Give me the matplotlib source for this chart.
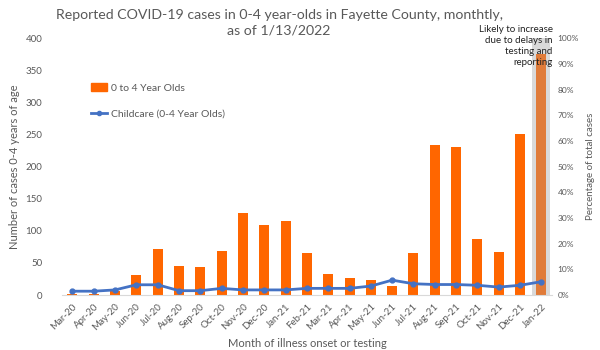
import matplotlib
matplotlib.use("Agg")
import matplotlib.pyplot as plt
from matplotlib.lines import Line2D
from matplotlib.patches import Patch

months = ["Mar-20", "Apr-20", "May-20", "Jun-20", "Jul-20", "Aug-20", "Sep-20",
          "Oct-20", "Nov-20", "Dec-20", "Jan-21", "Feb-21", "Mar-21", "Apr-21",
          "May-21", "Jun-21", "Jul-21", "Aug-21", "Sep-21", "Oct-21", "Nov-21",
          "Dec-21", "Jan-22"]
cases = [1, 1, 6, 31, 71, 46, 44, 68, 127, 109, 115, 65, 32, 26, 24, 14,
         66, 234, 230, 87, 67, 250, 376]
childcare_pct = [1.5, 1.5, 2.0, 4.0, 4.0, 1.7, 1.7, 2.6, 2.0, 2.0, 2.0, 2.6,
                 2.6, 2.6, 3.5, 5.8, 4.4, 4.1, 4.1, 3.8, 3.1, 3.8, 5.2]

gray = "#595959"
plt.rcParams['font.family'] = ['Lato', 'DejaVu Sans']

fig = plt.figure(figsize=(6, 3.5), dpi=100)
ax = fig.add_axes([0.103, 0.157, 0.817, 0.734])
x = list(range(len(months)))

# shaded "incomplete" month
ax.bar(x[-1], 400, width=0.85, color="#d9d9d9", zorder=0)
colors = ["#ff6600"] * (len(months) - 1) + ["#e07b39"]
ax.bar(x, cases, width=0.47, color=colors, zorder=2)

ax.set_ylim(0, 400)
ax.set_xlim(-0.5, len(months) - 0.5)
ax.set_yticks(range(0, 401, 50))
ax.set_xticks(x)
ax.set_xticklabels(months, rotation=45, ha="right", rotation_mode="anchor")
ax.tick_params(axis="both", length=0, labelsize=7, colors=gray)
ax.tick_params(axis="y", pad=14)
ax.tick_params(axis="x", pad=5)
for s in ["top", "right", "left"]:
    ax.spines[s].set_visible(False)
ax.spines["bottom"].set_color("#d9d9d9")
ax.set_ylabel("Number of cases 0-4 years of age", fontsize=8, color=gray)
ax.set_xlabel("Month of illness onset or testing", fontsize=8, color=gray, labelpad=4)

ax2 = ax.twinx()
ax2.plot(x, childcare_pct, color="#4472c4", lw=2, marker="o", ms=3.5, zorder=3)
ax2.set_ylim(0, 100)
ax2.set_yticks(range(0, 101, 10))
ax2.set_yticklabels([f"{v}%" for v in range(0, 101, 10)])
ax2.tick_params(axis="y", length=0, labelsize=6, colors=gray, pad=4)
for s in ["top", "right", "left", "bottom"]:
    ax2.spines[s].set_visible(False)
ax2.set_ylabel("Percentage of total cases", fontsize=7, color=gray, labelpad=5)

fig.text(0.465, 0.975, "Reported COVID-19 cases in 0-4 year-olds in Fayette County, monthtly,\nas of 1/13/2022",
         ha="center", va="top", fontsize=10.2, color=gray, linespacing=1.35)
fig.text(0.921, 0.93, "Likely to increase\ndue to delays in\ntesting and\nreporting",
         ha="right", va="top", fontsize=7, color="#222222", linespacing=1.3)

handles = [Patch(color="#ff6600"),
           Line2D([], [], color="#4472c4", lw=2, marker="o", ms=3)]
ax.legend(handles, ["0 to 4 Year Olds", "Childcare (0-4 Year Olds)"],
          loc="upper left", bbox_to_anchor=(0.04, 0.86), frameon=False,
          fontsize=7.5, labelcolor=gray, handlelength=1.6, handletextpad=0.3,
          labelspacing=1.6)

fig.savefig("out.png", dpi=100)
